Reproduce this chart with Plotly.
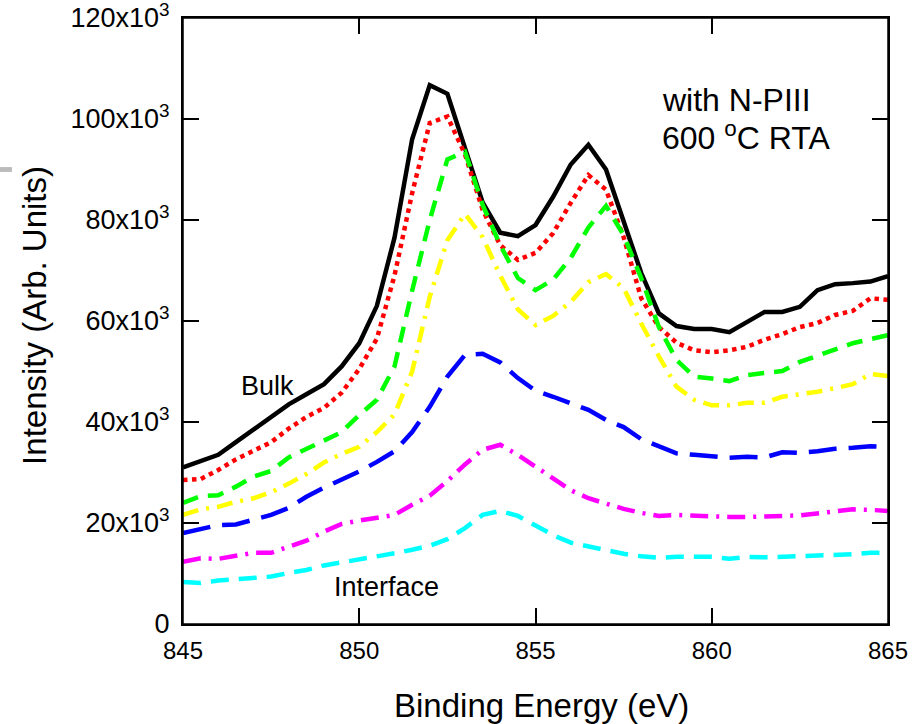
import plotly.graph_objects as go

energy = [845 + 0.5 * i for i in range(41)]

bulk = [31, 32.3, 33.5, 36, 38.5, 41, 43.5, 45.5, 47.5, 51, 55.6, 63, 76.5, 96, 106.7, 105,
        94, 83.5, 77.5, 76.8, 79, 84.6, 91, 94.9, 90, 79.5, 69.5, 61.5, 59, 58.4, 58.4,
        57.8, 59.8, 61.8, 61.8, 62.8, 66.1, 67.3, 67.5, 67.8, 68.9]
red = [28.5, 28.7, 30.5, 32.6, 34.3, 36, 38.7, 41, 42.8, 45.8, 50.5, 56.5, 69, 85.3, 99.2, 100.5,
       93, 82, 75, 72.1, 73.5, 77.4, 83.4, 88.9, 86, 76.6, 64.5, 58.8, 55.7, 54.2, 53.8,
       54.2, 54.9, 56.3, 57.4, 58.8, 59.6, 61.2, 62, 64.5, 64.2]
green = [24, 25.3, 25.5, 27.2, 29.2, 30.3, 33, 34.7, 36.2, 38, 41.4, 44.4, 51, 66, 80, 92,
         93.5, 83, 75, 68.5, 66.1, 68.2, 72.5, 78.5, 82.8, 77, 68.5, 58.8, 52.3, 49, 48.6,
         48.1, 49.3, 49.6, 50.1, 51.9, 53.1, 54.3, 55.6, 56.4, 57.2]
yellow = [21.6, 22.7, 23.2, 24.2, 24.9, 26.1, 27.8, 29.7, 32, 33.7, 35.1, 38, 41.5, 50, 64.8, 76,
          81.2, 76.6, 69, 62.3, 59.2, 61, 63.8, 67.7, 69.3, 66.5, 59.5, 53, 47, 44.4, 43.3,
          43.3, 43.8, 43.8, 45, 45.4, 46, 46.7, 47.5, 49.5, 49.1]
blue = [18, 18.9, 19.6, 19.7, 20.6, 21.6, 23, 25.2, 27, 28.6, 30.2, 32.1, 34.2, 38, 43, 49,
        53.3, 53.5, 51.8, 48.7, 46.2, 45, 43.7, 42.4, 40.4, 39, 36.6, 35.2, 33.8, 33.5, 33.2,
        32.9, 33.1, 33, 34, 33.9, 34.2, 34.7, 34.9, 35.2, 35]
magenta = [12.3, 13, 12.9, 13.6, 14.1, 14.1, 15.4, 16.5, 18.3, 19.8, 20.5, 21.1, 21.6, 23.6, 25.4, 28.3,
           31.6, 34.5, 35.5, 33.5, 31.1, 28.9, 26.5, 24.9, 23.8, 22.8, 22, 21.4, 21.6, 21.4, 21.2,
           21.2, 21.2, 21.2, 21.4, 21.5, 21.9, 22.2, 22.7, 22.6, 22.4]
interface = [8.3, 8.1, 8.6, 8.9, 9.2, 9.4, 10.1, 10.7, 11.6, 12.2, 12.8, 13.2, 14, 14.7, 15.5, 16.8,
             19, 21.6, 22.4, 21.4, 19.6, 17.6, 16.1, 15.3, 14.6, 13.9, 13.4, 13.1, 13.3, 13.4, 13.3,
             12.9, 13.3, 13.2, 13.3, 13.3, 13.5, 13.5, 13.8, 14.1, 14.1]

y_tick_vals = [0, 20000, 40000, 60000, 80000, 100000, 120000]
y_tick_text = ["0", "20x10<sup>3</sup>", "40x10<sup>3</sup>", "60x10<sup>3</sup>",
               "80x10<sup>3</sup>", "100x10<sup>3</sup>", "120x10<sup>3</sup>"]
x_tick_vals = [845, 850, 855, 860, 865]

series = [
    (bulk, "#000000", "solid", "Bulk"),
    (red, "#ff0000", "dot", "2"),
    (green, "#00ff00", "16px,10px", "3"),
    (yellow, "#ffff00", "16px,8px,3px,8px", "4"),
    (blue, "#0000ff", "28px,12px", "5"),
    (magenta, "#ff00ff", "18px,8px,3px,8px", "6"),
    (interface, "#00ffff", "18px,10px", "Interface"),
]

fig = go.Figure()
for vals, color, dash, name in series:
    fig.add_trace(go.Scatter(
        x=energy, y=[v * 1000 for v in vals], mode="lines", name=name,
        line=dict(color=color, width=4.5, dash=dash),
        showlegend=False,
    ))

font_family = "Liberation Sans, Arial, sans-serif"
axis_common = dict(
    showgrid=False, zeroline=False, showline=True, linecolor="#000000", linewidth=2,
    mirror="ticks", ticks="inside", ticklen=16, tickwidth=1.5, tickcolor="#000000",
    automargin=False,
)
fig.update_xaxes(range=[845, 865], tickvals=x_tick_vals,
                 tickfont=dict(family=font_family, size=24, color="#000000"),
                 ticklabelstandoff=4, **axis_common)
fig.update_yaxes(range=[0, 120000], tickvals=y_tick_vals, ticktext=y_tick_text,
                 tickfont=dict(family=font_family, size=27, color="#000000"),
                 ticklabelstandoff=6, ticklabeloverflow="allow", **axis_common)

# top frame axis (same scale as the bottom one)
fig.update_layout(xaxis2=dict(
    overlaying="x", side="top", anchor="y", range=[845, 865], tickvals=x_tick_vals,
    showticklabels=False, showgrid=False, zeroline=False, showline=True,
    linecolor="#000000", linewidth=2, ticks="inside", ticklen=16, tickwidth=1.5,
    tickcolor="#000000", automargin=False,
))

# plot frame
fig.add_shape(type="rect", xref="paper", yref="paper", x0=0, x1=1, y0=0, y1=1,
              line=dict(color="#000000", width=1.5), fillcolor="rgba(0,0,0,0)", layer="above")

title_font = dict(family=font_family, size=33, color="#000000")
fig.add_annotation(x=0.509, y=-0.134, xref="paper", yref="paper", xanchor="center", yanchor="middle",
                   text="Binding Energy (eV)", showarrow=False, font=title_font)
fig.add_annotation(x=-0.21, y=0.51, xref="paper", yref="paper", xanchor="center", yanchor="middle",
                   text="Intensity (Arb. Units)", showarrow=False, textangle=-90, font=title_font)

ann_font = dict(family=font_family, size=32, color="#000000")
fig.add_annotation(x=0.677, y=0.865, xref="paper", yref="paper", xanchor="left", yanchor="middle",
                   text="with N-PIII", showarrow=False, font=ann_font)
fig.add_annotation(x=0.677, y=0.805, xref="paper", yref="paper", xanchor="left", yanchor="middle",
                   text="600 <sup>o</sup>C RTA", showarrow=False, font=ann_font)
label_font = dict(family=font_family, size=27, color="#000000")
fig.add_annotation(x=847.41, y=47100, xanchor="center", yanchor="middle", text="Bulk", showarrow=False,
                   font=label_font)
fig.add_annotation(x=850.76, y=7300, xanchor="center", yanchor="middle", text="Interface", showarrow=False,
                   font=label_font)

fig.add_shape(type="rect", xref="paper", yref="paper", x0=-0.2596, x1=-0.2426, y0=0.746, y1=0.754,
              fillcolor="#bbbbbb", line=dict(width=0))

fig.update_layout(
    width=923, height=724,
    margin=dict(l=183, r=35, t=18, b=100, autoexpand=False),
    paper_bgcolor="#ffffff", plot_bgcolor="#ffffff",
    font=dict(family=font_family, color="#000000"),
)

fig.write_html("out.html", config={"displayModeBar": False},
               post_script="document.body.style.margin='0px';document.body.style.overflow='hidden';")
